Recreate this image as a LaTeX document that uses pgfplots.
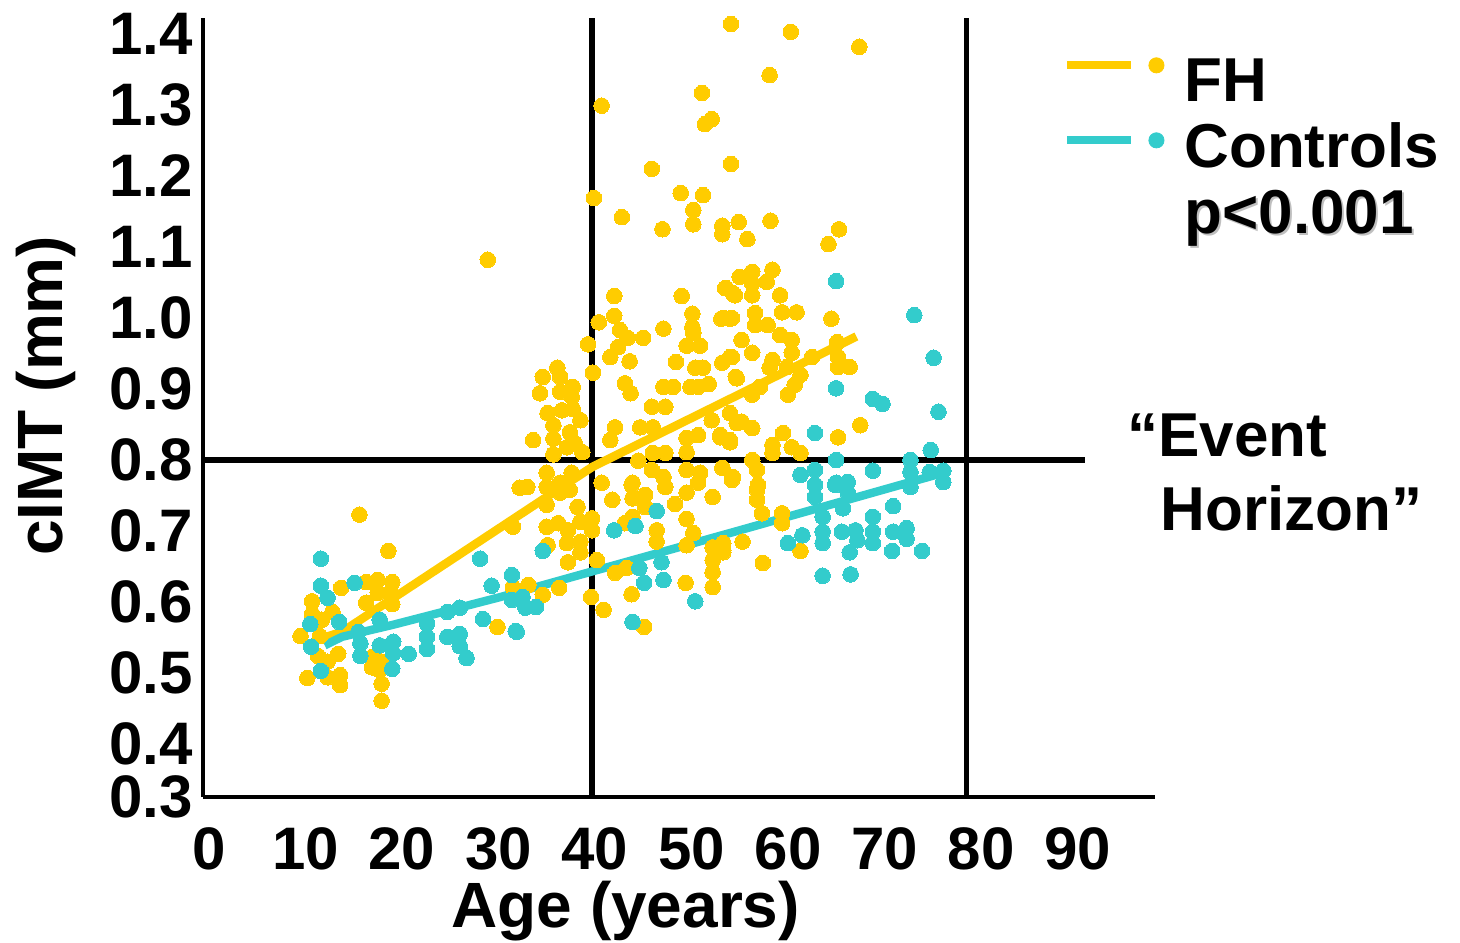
\documentclass[border=0pt]{standalone}
\usepackage{fontspec}
\setmainfont{Liberation Sans}
\usepackage{pgfplots}
\usepackage{pgfplotstable}
\pgfplotsset{compat=1.18}

\definecolor{fhyellow}{RGB}{255,204,0}
\definecolor{ctlteal}{RGB}{51,204,204}

% FH patients: age (years), cIMT (mm)
\pgfplotstableread{
age cimt
54.4 1.414
60.6 1.403
67.7 1.382
58.4 1.342
51.4 1.317
41.0 1.299
52.4 1.280
51.7 1.273
46.2 1.210
54.4 1.217
40.2 1.169
49.2 1.176
51.5 1.173
50.5 1.152
43.1 1.142
47.3 1.125
50.5 1.132
53.5 1.130
53.5 1.118
55.2 1.135
56.1 1.111
58.5 1.137
65.6 1.125
64.5 1.104
29.2 1.082
42.3 1.031
49.3 1.031
53.9 1.042
54.6 1.035
55.3 1.058
42.3 1.003
40.7 0.994
50.4 1.006
53.4 0.999
54.3 0.999
42.9 0.983
43.7 0.972
45.3 0.972
47.4 0.985
50.4 0.987
50.5 0.979
49.8 0.961
51.2 0.961
39.6 0.963
42.7 0.959
41.9 0.945
43.9 0.939
48.7 0.938
53.5 0.937
54.3 0.945
50.7 0.930
51.5 0.930
54.9 0.917
40.1 0.923
34.9 0.917
36.4 0.930
36.7 0.917
34.6 0.894
36.7 0.896
38.0 0.903
37.9 0.889
43.4 0.908
44.0 0.894
47.4 0.903
48.4 0.903
50.2 0.903
51.0 0.903
52.1 0.907
35.4 0.866
36.9 0.870
38.0 0.872
38.8 0.856
46.2 0.875
47.6 0.875
54.3 0.866
55.0 0.852
36.0 0.849
37.7 0.839
38.2 0.824
37.4 0.818
33.9 0.828
36.0 0.830
42.4 0.846
41.9 0.828
45.0 0.846
46.3 0.846
49.8 0.831
51.0 0.835
52.4 0.856
53.3 0.835
54.3 0.828
36.0 0.808
39.0 0.811
44.8 0.799
46.3 0.810
47.6 0.810
49.8 0.811
35.3 0.782
37.9 0.782
36.7 0.768
33.3 0.762
41.0 0.768
44.2 0.768
46.2 0.786
47.4 0.776
49.8 0.786
51.2 0.782
53.5 0.789
54.6 0.776
35.3 0.762
36.7 0.754
37.7 0.758
42.1 0.744
44.1 0.765
44.2 0.746
45.5 0.751
45.5 0.734
47.6 0.762
48.6 0.738
49.8 0.754
51.0 0.768
52.5 0.748
35.3 0.737
38.5 0.734
31.8 0.706
35.3 0.706
36.5 0.711
37.5 0.701
38.8 0.713
40.0 0.718
40.0 0.701
37.4 0.683
38.8 0.685
38.8 0.670
35.4 0.680
43.4 0.711
44.2 0.720
46.7 0.701
46.7 0.685
49.8 0.717
50.5 0.697
49.8 0.680
52.5 0.677
53.6 0.673
52.5 0.659
52.5 0.642
52.5 0.621
37.5 0.656
40.5 0.659
42.4 0.641
43.6 0.648
31.8 0.621
33.4 0.624
34.9 0.610
36.6 0.620
39.9 0.607
41.2 0.589
44.1 0.611
49.7 0.627
45.4 0.565
30.2 0.565
15.9 0.723
18.9 0.672
14.0 0.620
16.6 0.628
17.8 0.631
19.3 0.628
17.8 0.613
19.1 0.613
16.6 0.599
19.3 0.597
11.0 0.601
11.0 0.583
13.1 0.586
12.0 0.575
9.8 0.552
11.8 0.552
11.6 0.524
12.6 0.516
13.7 0.527
17.3 0.523
18.2 0.516
17.2 0.508
18.0 0.504
10.5 0.493
12.6 0.494
13.9 0.497
13.9 0.483
18.2 0.485
18.2 0.461
32.5 0.761
56.6 1.065
58.7 1.068
58.1 1.051
56.6 1.049
53.8 1.042
54.8 1.032
56.6 1.032
59.5 1.032
53.6 1.000
54.5 1.000
56.9 1.007
56.9 0.990
58.2 0.990
59.7 1.008
61.2 1.008
64.8 0.999
55.5 0.969
59.5 0.976
60.7 0.969
60.7 0.951
54.5 0.945
56.6 0.951
58.7 0.941
58.4 0.930
60.2 0.931
61.6 0.920
62.8 0.945
65.4 0.966
65.5 0.945
65.5 0.931
66.7 0.931
55.0 0.915
57.4 0.903
56.6 0.892
60.3 0.892
61.0 0.906
55.5 0.854
56.6 0.845
59.8 0.838
65.5 0.832
67.8 0.849
53.3 0.832
54.3 0.825
58.7 0.821
58.7 0.810
60.7 0.818
61.6 0.810
56.6 0.800
57.1 0.786
54.5 0.775
57.2 0.765
54.5 0.772
57.1 0.758
57.1 0.744
57.6 0.725
59.7 0.725
59.7 0.711
53.6 0.683
53.6 0.670
55.6 0.685
61.6 0.672
57.7 0.655
}\fhdata

% Controls: age (years), cIMT (mm)
\pgfplotstableread{
age cimt
11.9 0.661
11.9 0.623
15.4 0.627
12.6 0.606
28.4 0.661
31.7 0.638
29.6 0.623
31.7 0.603
28.7 0.576
10.8 0.569
13.8 0.572
10.9 0.537
11.9 0.503
15.8 0.558
16.0 0.542
16.0 0.524
18.0 0.575
18.0 0.539
19.4 0.544
19.4 0.528
19.3 0.506
21.0 0.527
22.9 0.570
22.9 0.551
22.9 0.534
25.0 0.586
26.3 0.592
25.0 0.551
26.3 0.555
26.3 0.538
27.0 0.521
32.2 0.558
34.9 0.672
32.8 0.607
33.1 0.592
34.2 0.593
32.1 0.559
42.3 0.701
44.5 0.707
46.7 0.728
44.9 0.648
47.2 0.656
45.4 0.627
47.4 0.631
50.7 0.601
44.2 0.572
65.3 1.052
73.4 1.004
75.4 0.944
65.3 0.901
69.1 0.886
70.1 0.879
75.9 0.868
63.1 0.838
75.1 0.814
73.0 0.800
65.3 0.800
61.6 0.779
63.1 0.786
65.3 0.768
66.5 0.769
69.1 0.785
73.0 0.783
75.0 0.783
76.4 0.785
76.4 0.769
63.1 0.765
63.1 0.748
65.2 0.765
66.5 0.754
66.0 0.732
71.2 0.735
69.1 0.720
63.9 0.720
73.0 0.762
61.8 0.694
60.3 0.683
63.9 0.699
63.9 0.683
65.9 0.699
67.3 0.701
67.5 0.687
66.7 0.670
69.1 0.699
69.1 0.683
71.2 0.699
72.6 0.704
72.6 0.689
71.1 0.672
74.2 0.672
63.9 0.637
66.8 0.639
}\ctldata

\begin{document}
\begin{tikzpicture}
\begin{axis}[
    scale only axis,
    width=476pt, height=389.5pt,
    xmin=-0.31, xmax=98.34,
    ymin=0.3254, ymax=1.4225,
    axis x line=bottom, axis y line=left,
    axis line style={-, line width=2pt, black},
    major tick length=0pt,
    clip=false,
    xtick={0,10,20,30,40,50,60,70,80,90},
    ytick={0.3254,0.4,0.5,0.6,0.7,0.8,0.9,1.0,1.1,1.2,1.3,1.4},
    yticklabels={0.3,0.4,0.5,0.6,0.7,0.8,0.9,1.0,1.1,1.2,1.3,1.4},
    /pgf/number format/assume math mode=true,
    ticklabel style={font=\fontsize{30}{36}\selectfont\bfseries},
    xticklabel style={yshift=-12pt, xshift=1.5pt},
    yticklabel style={xshift=-1.5pt},
    xlabel={Age (years)},
    ylabel={cIMT (mm)},
    label style={font=\fontsize{32}{38}\selectfont\bfseries},
    xlabel style={at={(rel axis cs:0.444,-0.167)}, anchor=base},
    ylabel style={at={(rel axis cs:-0.148,0.515)}, anchor=base},
    legend style={draw=none, fill=none, inner sep=0pt,
        at={(rel axis cs:0.9034,0.950)}, anchor=north west,
        row sep=5pt,
        font=\fontsize{31}{36}\selectfont\bfseries,
        nodes={inner xsep=10pt, inner ysep=0pt, text height=22pt, text depth=6pt}},
    legend cell align=left,
    legend image code/.code={
        \draw[#1, line width=4pt] (0pt,10pt) -- (32pt,10pt);
        \fill[#1] (44.5pt,10pt) circle (3.8pt);
    },
]
\addplot[only marks, mark=*, mark size=3.9pt, color=fhyellow,
    mark options={fill=fhyellow, draw=fhyellow, line width=0pt}, forget plot]
    table[x=age, y=cimt] {\fhdata};
\addplot[only marks, mark=*, mark size=3.9pt, color=ctlteal,
    mark options={fill=ctlteal, draw=ctlteal, line width=0pt}, forget plot]
    table[x=age, y=cimt] {\ctldata};

% reference lines
\draw[line width=2.8pt] (axis cs:40,0.3254) -- (axis cs:40,1.4225);
\draw[line width=2.8pt] (axis cs:78.8,0.3254) -- (axis cs:78.8,1.4225);
\draw[line width=2.8pt] (axis cs:-0.31,0.8) -- (axis cs:91.1,0.8);

% trend lines
\addplot[fhyellow, line width=4.3pt, line join=round, forget plot] coordinates {
    (11.8,0.548) (14.1,0.558) (40,0.790) (67.4,0.974)
};
\addplot[ctlteal, line width=4.2pt, line join=round, forget plot] coordinates {
    (12.3,0.539) (14.1,0.551) (19.4,0.568) (30.5,0.607) (55.3,0.701) (76.4,0.782)
};

\addlegendimage{color=fhyellow}
\addlegendentry{FH}
\addlegendimage{color=ctlteal, yshift=-4.5pt}
\addlegendentry{Controls}
\addlegendimage{empty legend}
\addlegendentry{\rlap{\raisebox{-1pt}{\kern1pt\textcolor{black!25}{p<0.001}}}p<0.001}

\node[anchor=base west, inner sep=0pt, font=\fontsize{31}{37}\selectfont\bfseries]
    at (rel axis cs:0.9706,0.4365) {“Event};
\node[anchor=base west, inner sep=0pt, font=\fontsize{31}{37}\selectfont\bfseries]
    at (rel axis cs:1.0053,0.3427) {Horizon”};
\end{axis}
\pgfresetboundingbox
\path[use as bounding box] (-101.5pt,-72.5pt) rectangle (628.5pt,398.5pt);
\end{tikzpicture}
\end{document}
